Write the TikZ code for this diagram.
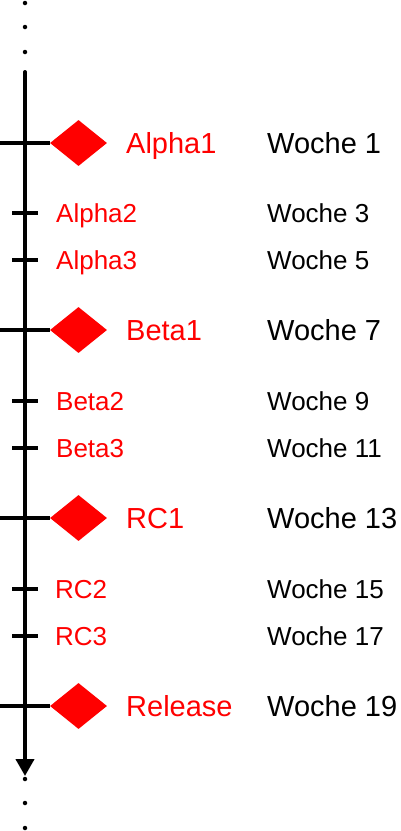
\documentclass[tikz,border=0pt]{standalone}
\usepackage{fontspec}
\setmainfont{Liberation Sans}
\usetikzlibrary{shapes.geometric,arrows.meta,positioning}

\begin{document}
\begin{tikzpicture}[x=1pt, y=-1pt,
    milestone/.style={diamond, fill=red, draw=none, inner sep=0pt, minimum width=57pt, minimum height=46pt, aspect=1.24},
    biglabel/.style={anchor=base west, inner sep=0pt, font=\fontsize{29}{32}\selectfont},
    smalllabel/.style={anchor=base west, inner sep=0pt, font=\fontsize{26}{29}\selectfont},
    release/.style={text=red},
    bigtick/.style={line width=3.5pt},
    smalltick/.style={line width=3.5pt},
    dot/.style={circle, fill=black, inner sep=0pt, minimum size=4.5pt}
]
    \useasboundingbox (0,0) rectangle (400,831);

    % Axis
    \coordinate (top) at (25,72);
    \coordinate (bottom) at (25,776);
    \draw[line width=4pt, line cap=round, -{Triangle[length=17pt, width=18pt]}] (top) -- (bottom);
    \node[dot] (dot1) at (25,3) {};
    \node[dot] (dot2) at (25,27) {};
    \node[dot] (dot3) at (25,52) {};
    \node[dot] (dot4) at (25,779) {};
    \node[dot] (dot5) at (25,803) {};
    \node[dot] (dot6) at (25,828) {};

    % Major milestones
    \draw[bigtick] (0,143) -- (50,143);
    \draw[bigtick] (0,330) -- (50,330);
    \draw[bigtick] (0,518) -- (50,518);
    \draw[bigtick] (0,706) -- (50,706);
    \node[milestone] (alpha1) at (78.5,143) {};
    \node[milestone] (beta1) at (78.5,330) {};
    \node[milestone] (rc1) at (78.5,518) {};
    \node[milestone] (rel) at (78.5,706) {};
    \node[biglabel, release] (alpha1text) at (126,153.5) {Alpha1};
    \node[biglabel, release] (beta1text) at (126,340.5) {Beta1};
    \node[biglabel, release] (rc1text) at (126,528.5) {RC1};
    \node[biglabel, release] (reltext) at (126,716.5) {Release};
    \node[biglabel] (week1) at (267,153.5) {Woche 1};
    \node[biglabel] (week7) at (267,340.5) {Woche 7};
    \node[biglabel] (week13) at (267,528.5) {Woche 13};
    \node[biglabel] (week19) at (267,716.5) {Woche 19};

    % Minor milestones
    \draw[smalltick] (12,213) -- (38,213);
    \draw[smalltick] (12,260) -- (38,260);
    \draw[smalltick] (12,401) -- (38,401);
    \draw[smalltick] (12,448) -- (38,448);
    \draw[smalltick] (12,589) -- (38,589);
    \draw[smalltick] (12,636) -- (38,636);
    \node[smalllabel, release] (alpha2text) at (56,222.5) {Alpha2};
    \node[smalllabel, release] (alpha3text) at (56,269.5) {Alpha3};
    \node[smalllabel, release] (beta2text) at (56,410.5) {Beta2};
    \node[smalllabel, release] (beta3text) at (56,457.5) {Beta3};
    \node[smalllabel, release] (rc2text) at (55,598.5) {RC2};
    \node[smalllabel, release] (rc3text) at (55,645.5) {RC3};
    \node[smalllabel] (week3) at (267,222.5) {Woche 3};
    \node[smalllabel] (week5) at (267,269.5) {Woche 5};
    \node[smalllabel] (week9) at (267,410.5) {Woche 9};
    \node[smalllabel] (week11) at (267,457.5) {Woche 11};
    \node[smalllabel] (week15) at (267,598.5) {Woche 15};
    \node[smalllabel] (week17) at (267,645.5) {Woche 17};
\end{tikzpicture}
\end{document}
